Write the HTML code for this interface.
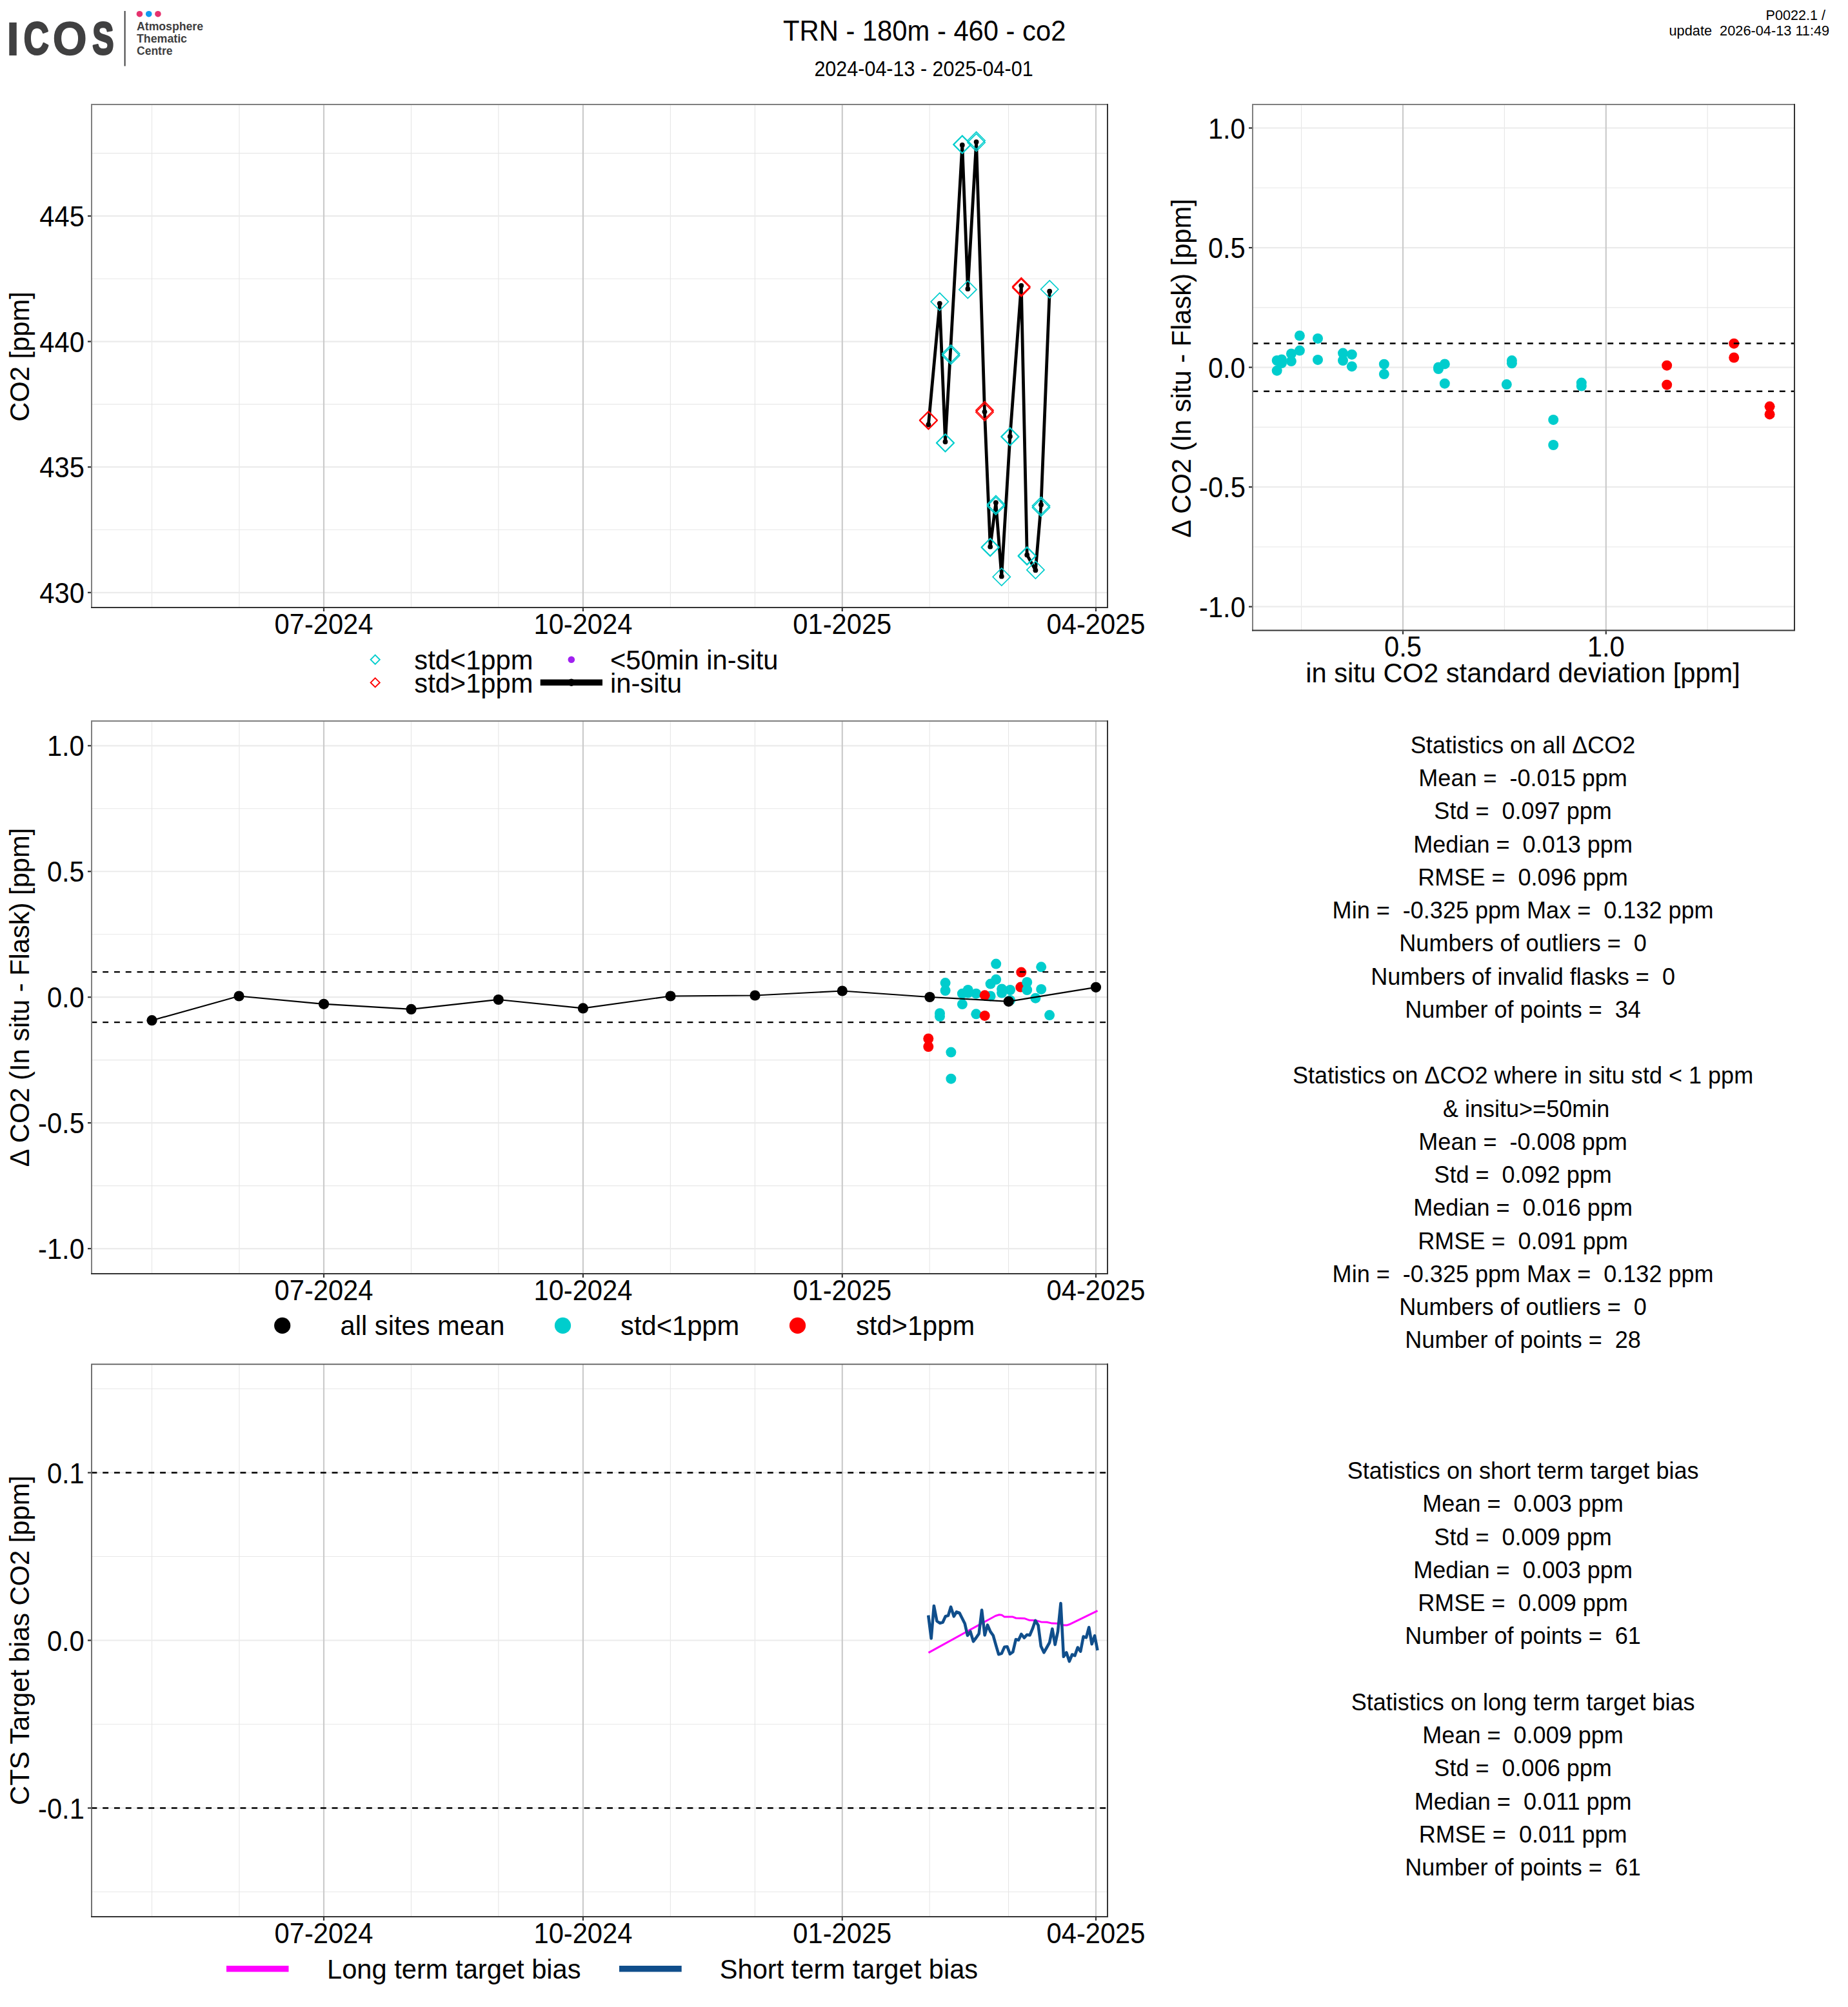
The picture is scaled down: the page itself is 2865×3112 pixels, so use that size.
<!DOCTYPE html>
<html lang="en">
<head>
<meta charset="utf-8">
<title>TRN - 180m - 460 - co2</title>
<style>
html,body{margin:0;padding:0;background:#fff;}
body{width:2865px;height:3112px;overflow:hidden;}
svg{display:block;font-family:"Liberation Sans", "DejaVu Sans", sans-serif;fill:#000;}
svg text{white-space:pre;}
</style>
</head>
<body>
<svg width="2865" height="3112" viewBox="0 0 2865 3112">
<rect width="2865" height="3112" fill="#fff"/>

<g id="logo">
<g font-size="74.9" font-weight="bold" fill="#404041" aria-label="ICOS"><title>ICOS</title><text transform="translate(9.07,85.56) scale(1.058,1.001)">I</text><text transform="translate(36.68,84.20) scale(0.721,0.946)" stroke="#404041" stroke-width="3.2" stroke-linejoin="round">C</text><text transform="translate(81.69,84.91) scale(0.908,0.973)" stroke="#404041" stroke-width="1.6" stroke-linejoin="round">O</text><text transform="translate(143.25,84.11) scale(0.665,0.942)" stroke="#404041" stroke-width="3.4" stroke-linejoin="round">S</text></g>
<line x1="193.6" x2="193.6" y1="17" y2="102.5" stroke="#404041" stroke-width="2"/>
<circle cx="216.4" cy="21.7" r="4.8" fill="#E5326E"/>
<circle cx="230.7" cy="21.7" r="4.8" fill="#0F9BF0"/>
<circle cx="244.9" cy="21.7" r="4.8" fill="#E5326E"/>
<g font-size="17.2" font-weight="bold" fill="#3e3e40">
<text transform="translate(212,47.2) scale(1,1.09)" textLength="103" lengthAdjust="spacingAndGlyphs">Atmosphere</text>
<text transform="translate(212,65.8) scale(1,1.09)" textLength="78" lengthAdjust="spacingAndGlyphs">Thematic</text>
<text transform="translate(212,84.5) scale(1,1.09)" textLength="55.5" lengthAdjust="spacingAndGlyphs">Centre</text>
</g>
</g>
<text transform="translate(1433.2,62.8) scale(1,1.05)" font-size="41.75" text-anchor="middle" xml:space="preserve">TRN - 180m - 460 - co2</text>
<text transform="translate(1432.0,118.0) scale(1,1.06)" font-size="30.52" text-anchor="middle" xml:space="preserve">2024-04-13 - 2025-04-01</text>
<text transform="translate(2836.0,30.9) scale(1,1.06)" font-size="21.6" text-anchor="end" xml:space="preserve">P0022.1 / </text>
<text transform="translate(2836.2,54.9) scale(1,1.05)" font-size="21.76" text-anchor="end" xml:space="preserve">update  2026-04-13 11:49</text>
<g>
<rect x="142" y="162" width="1575" height="780" fill="#fff"/>
<line x1="142" x2="1717" y1="237.62" y2="237.62" stroke="#e8e8e8" stroke-width="1.1"/>
<line x1="142" x2="1717" y1="432.24" y2="432.24" stroke="#e8e8e8" stroke-width="1.1"/>
<line x1="142" x2="1717" y1="626.87" y2="626.87" stroke="#e8e8e8" stroke-width="1.1"/>
<line x1="142" x2="1717" y1="821.49" y2="821.49" stroke="#e8e8e8" stroke-width="1.1"/>
<line x1="235.51" x2="235.51" y1="162" y2="942" stroke="#e6e6e6" stroke-width="1.1"/>
<line x1="370.94" x2="370.94" y1="162" y2="942" stroke="#e6e6e6" stroke-width="1.1"/>
<line x1="637.43" x2="637.43" y1="162" y2="942" stroke="#e6e6e6" stroke-width="1.1"/>
<line x1="772.85" x2="772.85" y1="162" y2="942" stroke="#e6e6e6" stroke-width="1.1"/>
<line x1="1039.34" x2="1039.34" y1="162" y2="942" stroke="#e6e6e6" stroke-width="1.1"/>
<line x1="1170.40" x2="1170.40" y1="162" y2="942" stroke="#e6e6e6" stroke-width="1.1"/>
<line x1="1441.25" x2="1441.25" y1="162" y2="942" stroke="#e6e6e6" stroke-width="1.1"/>
<line x1="1563.57" x2="1563.57" y1="162" y2="942" stroke="#e6e6e6" stroke-width="1.1"/>
<line x1="142" x2="1717" y1="334.93" y2="334.93" stroke="#ebebeb" stroke-width="2.2"/>
<line x1="142" x2="1717" y1="529.55" y2="529.55" stroke="#ebebeb" stroke-width="2.2"/>
<line x1="142" x2="1717" y1="724.18" y2="724.18" stroke="#ebebeb" stroke-width="2.2"/>
<line x1="142" x2="1717" y1="918.80" y2="918.80" stroke="#ebebeb" stroke-width="2.2"/>
<line x1="502.00" x2="502.00" y1="162" y2="942" stroke="#cbcbcb" stroke-width="2.2"/>
<line x1="903.90" x2="903.90" y1="162" y2="942" stroke="#cbcbcb" stroke-width="2.2"/>
<line x1="1305.80" x2="1305.80" y1="162" y2="942" stroke="#cbcbcb" stroke-width="2.2"/>
<line x1="1699.00" x2="1699.00" y1="162" y2="942" stroke="#cbcbcb" stroke-width="2.2"/>
<polyline fill="none" stroke="#000" stroke-width="4.8" stroke-linejoin="round" stroke-linecap="butt" points="1439.4,658.5 1456.8,470.6 1465.5,685.0 1491.8,224.9 1500.4,447.9 1513.6,220.1 1526.5,638.6 1535.2,847.7 1543.9,779.5 1552.8,893.7 1565.9,676.7 1583.3,442.8 1592.2,860.4 1605.4,884.2 1614.0,782.7 1627.2,451.7"/>
<circle cx="1439.4" cy="658.5" r="3.9" fill="#000"/>
<circle cx="1456.8" cy="470.6" r="3.9" fill="#000"/>
<circle cx="1465.5" cy="685.0" r="3.9" fill="#000"/>
<circle cx="1491.8" cy="224.9" r="3.9" fill="#000"/>
<circle cx="1500.4" cy="447.9" r="3.9" fill="#000"/>
<circle cx="1513.6" cy="220.1" r="3.9" fill="#000"/>
<circle cx="1526.5" cy="638.6" r="3.9" fill="#000"/>
<circle cx="1535.2" cy="847.7" r="3.9" fill="#000"/>
<circle cx="1543.9" cy="779.5" r="3.9" fill="#000"/>
<circle cx="1552.8" cy="893.7" r="3.9" fill="#000"/>
<circle cx="1565.9" cy="676.7" r="3.9" fill="#000"/>
<circle cx="1583.3" cy="442.8" r="3.9" fill="#000"/>
<circle cx="1592.2" cy="860.4" r="3.9" fill="#000"/>
<circle cx="1605.4" cy="884.2" r="3.9" fill="#000"/>
<circle cx="1614.0" cy="782.7" r="3.9" fill="#000"/>
<circle cx="1627.2" cy="451.7" r="3.9" fill="#000"/>
<path d="M1439.4,637.7 L1453.0,651.3 L1439.4,664.9 L1425.8,651.3 Z" fill="none" stroke="#FF0000" stroke-width="1.65"/>
<path d="M1439.4,638.6 L1453.0,652.2 L1439.4,665.8 L1425.8,652.2 Z" fill="none" stroke="#FF0000" stroke-width="1.65"/>
<path d="M1456.8,454.2 L1470.4,467.8 L1456.8,481.4 L1443.2,467.8 Z" fill="none" stroke="#00CDCD" stroke-width="1.65"/>
<path d="M1465.5,672.8 L1479.1,686.4 L1465.5,700.0 L1451.9,686.4 Z" fill="none" stroke="#00CDCD" stroke-width="1.65"/>
<path d="M1465.5,673.5 L1479.1,687.1 L1465.5,700.7 L1451.9,687.1 Z" fill="none" stroke="#00CDCD" stroke-width="1.65"/>
<path d="M1474.2,534.8 L1487.8,548.4 L1474.2,562.0 L1460.6,548.4 Z" fill="none" stroke="#00CDCD" stroke-width="1.65"/>
<path d="M1474.2,537.7 L1487.8,551.3 L1474.2,564.9 L1460.6,551.3 Z" fill="none" stroke="#00CDCD" stroke-width="1.65"/>
<path d="M1491.8,210.1 L1505.4,223.7 L1491.8,237.3 L1478.2,223.7 Z" fill="none" stroke="#00CDCD" stroke-width="1.65"/>
<path d="M1491.8,211.0 L1505.4,224.6 L1491.8,238.2 L1478.2,224.6 Z" fill="none" stroke="#00CDCD" stroke-width="1.65"/>
<path d="M1500.4,435.3 L1514.0,448.9 L1500.4,462.5 L1486.8,448.9 Z" fill="none" stroke="#00CDCD" stroke-width="1.65"/>
<path d="M1513.6,204.4 L1527.2,218.0 L1513.6,231.6 L1500.0,218.0 Z" fill="none" stroke="#00CDCD" stroke-width="1.65"/>
<path d="M1513.6,207.4 L1527.2,221.0 L1513.6,234.6 L1500.0,221.0 Z" fill="none" stroke="#00CDCD" stroke-width="1.65"/>
<path d="M1526.5,622.7 L1540.1,636.3 L1526.5,649.9 L1512.9,636.3 Z" fill="none" stroke="#FF0000" stroke-width="1.65"/>
<path d="M1526.5,625.5 L1540.1,639.1 L1526.5,652.7 L1512.9,639.1 Z" fill="none" stroke="#FF0000" stroke-width="1.65"/>
<path d="M1535.2,834.6 L1548.8,848.2 L1535.2,861.8 L1521.6,848.2 Z" fill="none" stroke="#00CDCD" stroke-width="1.65"/>
<path d="M1535.2,835.5 L1548.8,849.1 L1535.2,862.7 L1521.6,849.1 Z" fill="none" stroke="#00CDCD" stroke-width="1.65"/>
<path d="M1543.9,768.4 L1557.5,782.0 L1543.9,795.6 L1530.3,782.0 Z" fill="none" stroke="#00CDCD" stroke-width="1.65"/>
<path d="M1543.9,771.0 L1557.5,784.6 L1543.9,798.2 L1530.3,784.6 Z" fill="none" stroke="#00CDCD" stroke-width="1.65"/>
<path d="M1552.8,880.9 L1566.4,894.5 L1552.8,908.1 L1539.2,894.5 Z" fill="none" stroke="#00CDCD" stroke-width="1.65"/>
<path d="M1565.9,663.1 L1579.5,676.7 L1565.9,690.3 L1552.3,676.7 Z" fill="none" stroke="#00CDCD" stroke-width="1.65"/>
<path d="M1565.9,664.0 L1579.5,677.6 L1565.9,691.2 L1552.3,677.6 Z" fill="none" stroke="#00CDCD" stroke-width="1.65"/>
<path d="M1583.3,430.7 L1596.9,444.3 L1583.3,457.9 L1569.7,444.3 Z" fill="none" stroke="#FF0000" stroke-width="1.65"/>
<path d="M1583.3,432.6 L1596.9,446.2 L1583.3,459.8 L1569.7,446.2 Z" fill="none" stroke="#FF0000" stroke-width="1.65"/>
<path d="M1592.2,847.9 L1605.8,861.5 L1592.2,875.1 L1578.6,861.5 Z" fill="none" stroke="#00CDCD" stroke-width="1.65"/>
<path d="M1592.2,848.8 L1605.8,862.4 L1592.2,876.0 L1578.6,862.4 Z" fill="none" stroke="#00CDCD" stroke-width="1.65"/>
<path d="M1605.4,870.1 L1619.0,883.7 L1605.4,897.3 L1591.8,883.7 Z" fill="none" stroke="#00CDCD" stroke-width="1.65"/>
<path d="M1614.0,770.7 L1627.6,784.3 L1614.0,797.9 L1600.4,784.3 Z" fill="none" stroke="#00CDCD" stroke-width="1.65"/>
<path d="M1614.0,773.5 L1627.6,787.1 L1614.0,800.7 L1600.4,787.1 Z" fill="none" stroke="#00CDCD" stroke-width="1.65"/>
<path d="M1627.2,434.9 L1640.8,448.5 L1627.2,462.1 L1613.6,448.5 Z" fill="none" stroke="#00CDCD" stroke-width="1.65"/>
<path d="M142,943 V162 H1718" fill="none" stroke="#7f7f7f" stroke-width="2"/>
<path d="M141,942 H1717 V161" fill="none" stroke="#333" stroke-width="2"/>
</g>
<line x1="502.00" x2="502.00" y1="943" y2="948" stroke="#333" stroke-width="2.2"/>
<text transform="translate(502,982.5) scale(1,1.07)" font-size="41.67" text-anchor="middle" xml:space="preserve">07-2024</text>
<line x1="903.90" x2="903.90" y1="943" y2="948" stroke="#333" stroke-width="2.2"/>
<text transform="translate(903.9,982.5) scale(1,1.07)" font-size="41.67" text-anchor="middle" xml:space="preserve">10-2024</text>
<line x1="1305.80" x2="1305.80" y1="943" y2="948" stroke="#333" stroke-width="2.2"/>
<text transform="translate(1305.8,982.5) scale(1,1.07)" font-size="41.67" text-anchor="middle" xml:space="preserve">01-2025</text>
<line x1="1699.00" x2="1699.00" y1="943" y2="948" stroke="#333" stroke-width="2.2"/>
<text transform="translate(1699,982.5) scale(1,1.07)" font-size="41.67" text-anchor="middle" xml:space="preserve">04-2025</text>
<line x1="136" x2="141" y1="334.93" y2="334.93" stroke="#333" stroke-width="2.2"/>
<text transform="translate(130.8,351.03) scale(1,1.07)" font-size="41.67" text-anchor="end" xml:space="preserve">445</text>
<line x1="136" x2="141" y1="529.55" y2="529.55" stroke="#333" stroke-width="2.2"/>
<text transform="translate(130.8,545.65) scale(1,1.07)" font-size="41.67" text-anchor="end" xml:space="preserve">440</text>
<line x1="136" x2="141" y1="724.18" y2="724.18" stroke="#333" stroke-width="2.2"/>
<text transform="translate(130.8,740.28) scale(1,1.07)" font-size="41.67" text-anchor="end" xml:space="preserve">435</text>
<line x1="136" x2="141" y1="918.80" y2="918.80" stroke="#333" stroke-width="2.2"/>
<text transform="translate(130.8,934.9) scale(1,1.07)" font-size="41.67" text-anchor="end" xml:space="preserve">430</text>
<text transform="translate(45,553) rotate(-90) scale(1,1.04)" font-size="41.67" text-anchor="middle" xml:space="preserve">CO2 [ppm]</text>
<g id="legend1">
<path d="M581.7,1015.7 L588.8,1022.8 L581.7,1029.9 L574.6,1022.8 Z" fill="none" stroke="#00CDCD" stroke-width="1.9"/>
<path d="M581.7,1051.3 L588.8,1058.4 L581.7,1065.5 L574.6,1058.4 Z" fill="none" stroke="#FF0000" stroke-width="1.9"/>
<text transform="translate(642.3,1038.3) scale(1,1.02)" font-size="41.67" xml:space="preserve">std&lt;1ppm</text>
<text transform="translate(642.3,1073.5) scale(1,1.02)" font-size="41.67" xml:space="preserve">std&gt;1ppm</text>
<circle cx="885.8" cy="1022.8" r="5.3" fill="#A020F0"/>
<line x1="837.7" x2="934" y1="1058.2" y2="1058.2" stroke="#000" stroke-width="9.4"/>
<circle cx="885.8" cy="1058.2" r="5.7" fill="#000"/>
<text transform="translate(946,1038.3) scale(1,1.02)" font-size="41.67" xml:space="preserve">&lt;50min in-situ</text>
<text transform="translate(946,1073.5) scale(1,1.02)" font-size="41.67" xml:space="preserve">in-situ</text>
</g>
<g>
<rect x="1942" y="162" width="840" height="815.5" fill="#fff"/>
<line x1="1942" x2="2782" y1="291.27" y2="291.27" stroke="#e8e8e8" stroke-width="1.1"/>
<line x1="1942" x2="2782" y1="476.83" y2="476.83" stroke="#e8e8e8" stroke-width="1.1"/>
<line x1="1942" x2="2782" y1="662.38" y2="662.38" stroke="#e8e8e8" stroke-width="1.1"/>
<line x1="1942" x2="2782" y1="847.93" y2="847.93" stroke="#e8e8e8" stroke-width="1.1"/>
<line x1="2017.60" x2="2017.60" y1="162" y2="977.5" stroke="#e6e6e6" stroke-width="1.1"/>
<line x1="2332.40" x2="2332.40" y1="162" y2="977.5" stroke="#e6e6e6" stroke-width="1.1"/>
<line x1="2647.20" x2="2647.20" y1="162" y2="977.5" stroke="#e6e6e6" stroke-width="1.1"/>
<line x1="1942" x2="2782" y1="198.50" y2="198.50" stroke="#ebebeb" stroke-width="2.2"/>
<line x1="1942" x2="2782" y1="384.05" y2="384.05" stroke="#ebebeb" stroke-width="2.2"/>
<line x1="1942" x2="2782" y1="569.60" y2="569.60" stroke="#ebebeb" stroke-width="2.2"/>
<line x1="1942" x2="2782" y1="755.15" y2="755.15" stroke="#ebebeb" stroke-width="2.2"/>
<line x1="1942" x2="2782" y1="940.70" y2="940.70" stroke="#ebebeb" stroke-width="2.2"/>
<line x1="2175.00" x2="2175.00" y1="162" y2="977.5" stroke="#cbcbcb" stroke-width="2.2"/>
<line x1="2489.80" x2="2489.80" y1="162" y2="977.5" stroke="#cbcbcb" stroke-width="2.2"/>
<circle cx="2014.9" cy="520.5" r="8" fill="#00CDCD"/>
<circle cx="2043.0" cy="524.9" r="8" fill="#00CDCD"/>
<circle cx="2014.9" cy="543.6" r="8" fill="#00CDCD"/>
<circle cx="2001.9" cy="548.4" r="8" fill="#00CDCD"/>
<circle cx="2001.9" cy="560.1" r="8" fill="#00CDCD"/>
<circle cx="1987.0" cy="557.4" r="8" fill="#00CDCD"/>
<circle cx="1987.0" cy="563.1" r="8" fill="#00CDCD"/>
<circle cx="1979.7" cy="559.0" r="8" fill="#00CDCD"/>
<circle cx="1979.7" cy="574.7" r="8" fill="#00CDCD"/>
<circle cx="2043.0" cy="557.9" r="8" fill="#00CDCD"/>
<circle cx="2082.0" cy="547.6" r="8" fill="#00CDCD"/>
<circle cx="2082.0" cy="559.0" r="8" fill="#00CDCD"/>
<circle cx="2095.8" cy="549.7" r="8" fill="#00CDCD"/>
<circle cx="2095.8" cy="568.2" r="8" fill="#00CDCD"/>
<circle cx="2145.8" cy="564.7" r="8" fill="#00CDCD"/>
<circle cx="2145.8" cy="580.1" r="8" fill="#00CDCD"/>
<circle cx="2230.0" cy="569.5" r="8" fill="#00CDCD"/>
<circle cx="2230.0" cy="572.0" r="8" fill="#00CDCD"/>
<circle cx="2239.8" cy="564.4" r="8" fill="#00CDCD"/>
<circle cx="2239.8" cy="594.7" r="8" fill="#00CDCD"/>
<circle cx="2343.9" cy="559.1" r="8" fill="#00CDCD"/>
<circle cx="2343.9" cy="563.3" r="8" fill="#00CDCD"/>
<circle cx="2335.8" cy="596.1" r="8" fill="#00CDCD"/>
<circle cx="2408.2" cy="650.9" r="8" fill="#00CDCD"/>
<circle cx="2408.2" cy="690.0" r="8" fill="#00CDCD"/>
<circle cx="2451.8" cy="593.6" r="8" fill="#00CDCD"/>
<circle cx="2451.8" cy="598.5" r="8" fill="#00CDCD"/>
<circle cx="2584.2" cy="566.7" r="8" fill="#FF0000"/>
<circle cx="2584.2" cy="596.7" r="8" fill="#FF0000"/>
<circle cx="2688.2" cy="532.7" r="8" fill="#FF0000"/>
<circle cx="2688.2" cy="554.5" r="8" fill="#FF0000"/>
<circle cx="2743.6" cy="630.3" r="8" fill="#FF0000"/>
<circle cx="2743.6" cy="642.4" r="8" fill="#FF0000"/>
<line x1="1941.45" x2="2782" y1="532.49" y2="532.49" stroke="#000" stroke-width="2.35" stroke-dasharray="8.885 8.885"/>
<line x1="1941.45" x2="2782" y1="606.71" y2="606.71" stroke="#000" stroke-width="2.35" stroke-dasharray="8.885 8.885"/>
<path d="M1942,978.5 V162 H2783" fill="none" stroke="#7f7f7f" stroke-width="2"/>
<path d="M1941,977.5 H2782 V161" fill="none" stroke="#333" stroke-width="2"/>
</g>
<line x1="2175.00" x2="2175.00" y1="978.5" y2="983.5" stroke="#333" stroke-width="2.2"/>
<text transform="translate(2175.0,1017.5) scale(1,1.07)" font-size="41.67" text-anchor="middle" xml:space="preserve">0.5</text>
<line x1="2489.80" x2="2489.80" y1="978.5" y2="983.5" stroke="#333" stroke-width="2.2"/>
<text transform="translate(2489.8,1017.5) scale(1,1.07)" font-size="41.67" text-anchor="middle" xml:space="preserve">1.0</text>
<line x1="1936" x2="1941" y1="198.50" y2="198.50" stroke="#333" stroke-width="2.2"/>
<text transform="translate(1930.8,214.6) scale(1,1.07)" font-size="41.67" text-anchor="end" xml:space="preserve">1.0</text>
<line x1="1936" x2="1941" y1="384.05" y2="384.05" stroke="#333" stroke-width="2.2"/>
<text transform="translate(1930.8,400.15) scale(1,1.07)" font-size="41.67" text-anchor="end" xml:space="preserve">0.5</text>
<line x1="1936" x2="1941" y1="569.60" y2="569.60" stroke="#333" stroke-width="2.2"/>
<text transform="translate(1930.8,585.7) scale(1,1.07)" font-size="41.67" text-anchor="end" xml:space="preserve">0.0</text>
<line x1="1936" x2="1941" y1="755.15" y2="755.15" stroke="#333" stroke-width="2.2"/>
<text transform="translate(1930.8,771.25) scale(1,1.07)" font-size="41.67" text-anchor="end" xml:space="preserve">-0.5</text>
<line x1="1936" x2="1941" y1="940.70" y2="940.70" stroke="#333" stroke-width="2.2"/>
<text transform="translate(1930.8,956.8) scale(1,1.07)" font-size="41.67" text-anchor="end" xml:space="preserve">-1.0</text>
<text transform="translate(1846,571) rotate(-90) scale(1,1.04)" font-size="41.67" text-anchor="middle" xml:space="preserve">Δ CO2 (In situ - Flask) [ppm]</text>
<text transform="translate(2361,1057.5) scale(1,1.03)" font-size="41.67" text-anchor="middle" xml:space="preserve">in situ CO2 standard deviation [ppm]</text>
<g>
<rect x="142" y="1118" width="1575" height="857" fill="#fff"/>
<line x1="142" x2="1717" y1="1253.77" y2="1253.77" stroke="#e8e8e8" stroke-width="1.1"/>
<line x1="142" x2="1717" y1="1448.71" y2="1448.71" stroke="#e8e8e8" stroke-width="1.1"/>
<line x1="142" x2="1717" y1="1643.65" y2="1643.65" stroke="#e8e8e8" stroke-width="1.1"/>
<line x1="142" x2="1717" y1="1838.59" y2="1838.59" stroke="#e8e8e8" stroke-width="1.1"/>
<line x1="235.51" x2="235.51" y1="1118" y2="1975" stroke="#e6e6e6" stroke-width="1.1"/>
<line x1="370.94" x2="370.94" y1="1118" y2="1975" stroke="#e6e6e6" stroke-width="1.1"/>
<line x1="637.43" x2="637.43" y1="1118" y2="1975" stroke="#e6e6e6" stroke-width="1.1"/>
<line x1="772.85" x2="772.85" y1="1118" y2="1975" stroke="#e6e6e6" stroke-width="1.1"/>
<line x1="1039.34" x2="1039.34" y1="1118" y2="1975" stroke="#e6e6e6" stroke-width="1.1"/>
<line x1="1170.40" x2="1170.40" y1="1118" y2="1975" stroke="#e6e6e6" stroke-width="1.1"/>
<line x1="1441.25" x2="1441.25" y1="1118" y2="1975" stroke="#e6e6e6" stroke-width="1.1"/>
<line x1="1563.57" x2="1563.57" y1="1118" y2="1975" stroke="#e6e6e6" stroke-width="1.1"/>
<line x1="142" x2="1717" y1="1156.30" y2="1156.30" stroke="#ebebeb" stroke-width="2.2"/>
<line x1="142" x2="1717" y1="1351.24" y2="1351.24" stroke="#ebebeb" stroke-width="2.2"/>
<line x1="142" x2="1717" y1="1546.18" y2="1546.18" stroke="#ebebeb" stroke-width="2.2"/>
<line x1="142" x2="1717" y1="1741.12" y2="1741.12" stroke="#ebebeb" stroke-width="2.2"/>
<line x1="142" x2="1717" y1="1936.06" y2="1936.06" stroke="#ebebeb" stroke-width="2.2"/>
<line x1="502.00" x2="502.00" y1="1118" y2="1975" stroke="#cbcbcb" stroke-width="2.2"/>
<line x1="903.90" x2="903.90" y1="1118" y2="1975" stroke="#cbcbcb" stroke-width="2.2"/>
<line x1="1305.80" x2="1305.80" y1="1118" y2="1975" stroke="#cbcbcb" stroke-width="2.2"/>
<line x1="1699.00" x2="1699.00" y1="1118" y2="1975" stroke="#cbcbcb" stroke-width="2.2"/>
<circle cx="1544.2" cy="1494.6" r="8" fill="#00CDCD"/>
<circle cx="1614.2" cy="1499.3" r="8" fill="#00CDCD"/>
<circle cx="1465.6" cy="1524.1" r="8" fill="#00CDCD"/>
<circle cx="1465.6" cy="1536.0" r="8" fill="#00CDCD"/>
<circle cx="1544.2" cy="1518.8" r="8" fill="#00CDCD"/>
<circle cx="1535.6" cy="1525.6" r="8" fill="#00CDCD"/>
<circle cx="1500.7" cy="1535.0" r="8" fill="#00CDCD"/>
<circle cx="1500.7" cy="1539.5" r="8" fill="#00CDCD"/>
<circle cx="1491.9" cy="1540.7" r="8" fill="#00CDCD"/>
<circle cx="1513.3" cy="1540.7" r="8" fill="#00CDCD"/>
<circle cx="1553.1" cy="1533.4" r="8" fill="#00CDCD"/>
<circle cx="1553.1" cy="1539.5" r="8" fill="#00CDCD"/>
<circle cx="1566.1" cy="1535.0" r="8" fill="#00CDCD"/>
<circle cx="1535.6" cy="1544.4" r="8" fill="#00CDCD"/>
<circle cx="1566.1" cy="1550.9" r="8" fill="#00CDCD"/>
<circle cx="1605.4" cy="1547.7" r="8" fill="#00CDCD"/>
<circle cx="1491.9" cy="1557.1" r="8" fill="#00CDCD"/>
<circle cx="1457.0" cy="1571.2" r="8" fill="#00CDCD"/>
<circle cx="1457.0" cy="1576.1" r="8" fill="#00CDCD"/>
<circle cx="1513.3" cy="1572.3" r="8" fill="#00CDCD"/>
<circle cx="1627.1" cy="1574.1" r="8" fill="#00CDCD"/>
<circle cx="1474.4" cy="1631.6" r="8" fill="#00CDCD"/>
<circle cx="1474.4" cy="1672.7" r="8" fill="#00CDCD"/>
<circle cx="1439.3" cy="1610.5" r="8" fill="#FF0000"/>
<circle cx="1439.3" cy="1623.0" r="8" fill="#FF0000"/>
<circle cx="1526.7" cy="1543.3" r="8" fill="#FF0000"/>
<circle cx="1526.7" cy="1574.9" r="8" fill="#FF0000"/>
<circle cx="1583.3" cy="1507.6" r="8" fill="#FF0000"/>
<circle cx="1582.3" cy="1530.6" r="8" fill="#FF0000"/>
<circle cx="1592.2" cy="1523.0" r="8" fill="#00CDCD"/>
<circle cx="1592.2" cy="1535.0" r="8" fill="#00CDCD"/>
<circle cx="1614.2" cy="1533.9" r="8" fill="#00CDCD"/>
<line x1="141.45" x2="1717" y1="1507.19" y2="1507.19" stroke="#000" stroke-width="2.35" stroke-dasharray="8.885 8.885"/>
<line x1="141.45" x2="1717" y1="1585.17" y2="1585.17" stroke="#000" stroke-width="2.35" stroke-dasharray="8.885 8.885"/>
<polyline fill="none" stroke="#000" stroke-width="2.2" points="235.5,1582.2 370.5,1544.5 502,1556.8 637.5,1564.9 772.7,1550.0 903.9,1563.4 1039.5,1544.5 1170.5,1543.5 1305.8,1536.5 1441.4,1546.0 1563.7,1552.8 1699,1530.8"/>
<circle cx="235.5" cy="1582.2" r="8.1" fill="#000"/>
<circle cx="370.5" cy="1544.5" r="8.1" fill="#000"/>
<circle cx="502" cy="1556.8" r="8.1" fill="#000"/>
<circle cx="637.5" cy="1564.9" r="8.1" fill="#000"/>
<circle cx="772.7" cy="1550.0" r="8.1" fill="#000"/>
<circle cx="903.9" cy="1563.4" r="8.1" fill="#000"/>
<circle cx="1039.5" cy="1544.5" r="8.1" fill="#000"/>
<circle cx="1170.5" cy="1543.5" r="8.1" fill="#000"/>
<circle cx="1305.8" cy="1536.5" r="8.1" fill="#000"/>
<circle cx="1441.4" cy="1546.0" r="8.1" fill="#000"/>
<circle cx="1563.7" cy="1552.8" r="8.1" fill="#000"/>
<circle cx="1699" cy="1530.8" r="8.1" fill="#000"/>
<path d="M142,1976 V1118 H1718" fill="none" stroke="#7f7f7f" stroke-width="2"/>
<path d="M141,1975 H1717 V1117" fill="none" stroke="#333" stroke-width="2"/>
</g>
<line x1="502.00" x2="502.00" y1="1976" y2="1981" stroke="#333" stroke-width="2.2"/>
<text transform="translate(502,2015.5) scale(1,1.07)" font-size="41.67" text-anchor="middle" xml:space="preserve">07-2024</text>
<line x1="903.90" x2="903.90" y1="1976" y2="1981" stroke="#333" stroke-width="2.2"/>
<text transform="translate(903.9,2015.5) scale(1,1.07)" font-size="41.67" text-anchor="middle" xml:space="preserve">10-2024</text>
<line x1="1305.80" x2="1305.80" y1="1976" y2="1981" stroke="#333" stroke-width="2.2"/>
<text transform="translate(1305.8,2015.5) scale(1,1.07)" font-size="41.67" text-anchor="middle" xml:space="preserve">01-2025</text>
<line x1="1699.00" x2="1699.00" y1="1976" y2="1981" stroke="#333" stroke-width="2.2"/>
<text transform="translate(1699,2015.5) scale(1,1.07)" font-size="41.67" text-anchor="middle" xml:space="preserve">04-2025</text>
<line x1="136" x2="141" y1="1156.30" y2="1156.30" stroke="#333" stroke-width="2.2"/>
<text transform="translate(130.8,1172.4) scale(1,1.07)" font-size="41.67" text-anchor="end" xml:space="preserve">1.0</text>
<line x1="136" x2="141" y1="1351.24" y2="1351.24" stroke="#333" stroke-width="2.2"/>
<text transform="translate(130.8,1367.34) scale(1,1.07)" font-size="41.67" text-anchor="end" xml:space="preserve">0.5</text>
<line x1="136" x2="141" y1="1546.18" y2="1546.18" stroke="#333" stroke-width="2.2"/>
<text transform="translate(130.8,1562.28) scale(1,1.07)" font-size="41.67" text-anchor="end" xml:space="preserve">0.0</text>
<line x1="136" x2="141" y1="1741.12" y2="1741.12" stroke="#333" stroke-width="2.2"/>
<text transform="translate(130.8,1757.22) scale(1,1.07)" font-size="41.67" text-anchor="end" xml:space="preserve">-0.5</text>
<line x1="136" x2="141" y1="1936.06" y2="1936.06" stroke="#333" stroke-width="2.2"/>
<text transform="translate(130.8,1952.16) scale(1,1.07)" font-size="41.67" text-anchor="end" xml:space="preserve">-1.0</text>
<text transform="translate(45,1546.5) rotate(-90) scale(1,1.04)" font-size="41.67" text-anchor="middle" xml:space="preserve">Δ CO2 (In situ - Flask) [ppm]</text>
<g id="legend2">
<circle cx="437.7" cy="2055.4" r="12.6" fill="#000"/>
<text transform="translate(527.6,2070.3) scale(1,1.02)" font-size="41.67" xml:space="preserve">all sites mean</text>
<circle cx="872.5" cy="2055.4" r="12.6" fill="#00CDCD"/>
<text transform="translate(962.1,2070.3) scale(1,1.02)" font-size="41.67" xml:space="preserve">std&lt;1ppm</text>
<circle cx="1236.5" cy="2055.4" r="12.6" fill="#FF0000"/>
<text transform="translate(1327,2070.3) scale(1,1.02)" font-size="41.67" xml:space="preserve">std&gt;1ppm</text>
</g>
<g>
<rect x="142" y="2115.3" width="1575" height="856.6999999999998" fill="#fff"/>
<line x1="142" x2="1717" y1="2153.50" y2="2153.50" stroke="#e8e8e8" stroke-width="1.1"/>
<line x1="142" x2="1717" y1="2413.50" y2="2413.50" stroke="#e8e8e8" stroke-width="1.1"/>
<line x1="142" x2="1717" y1="2673.50" y2="2673.50" stroke="#e8e8e8" stroke-width="1.1"/>
<line x1="142" x2="1717" y1="2933.50" y2="2933.50" stroke="#e8e8e8" stroke-width="1.1"/>
<line x1="235.51" x2="235.51" y1="2115.3" y2="2972" stroke="#e6e6e6" stroke-width="1.1"/>
<line x1="370.94" x2="370.94" y1="2115.3" y2="2972" stroke="#e6e6e6" stroke-width="1.1"/>
<line x1="637.43" x2="637.43" y1="2115.3" y2="2972" stroke="#e6e6e6" stroke-width="1.1"/>
<line x1="772.85" x2="772.85" y1="2115.3" y2="2972" stroke="#e6e6e6" stroke-width="1.1"/>
<line x1="1039.34" x2="1039.34" y1="2115.3" y2="2972" stroke="#e6e6e6" stroke-width="1.1"/>
<line x1="1170.40" x2="1170.40" y1="2115.3" y2="2972" stroke="#e6e6e6" stroke-width="1.1"/>
<line x1="1441.25" x2="1441.25" y1="2115.3" y2="2972" stroke="#e6e6e6" stroke-width="1.1"/>
<line x1="1563.57" x2="1563.57" y1="2115.3" y2="2972" stroke="#e6e6e6" stroke-width="1.1"/>
<line x1="142" x2="1717" y1="2283.50" y2="2283.50" stroke="#ebebeb" stroke-width="2.2"/>
<line x1="142" x2="1717" y1="2543.50" y2="2543.50" stroke="#ebebeb" stroke-width="2.2"/>
<line x1="142" x2="1717" y1="2803.50" y2="2803.50" stroke="#ebebeb" stroke-width="2.2"/>
<line x1="502.00" x2="502.00" y1="2115.3" y2="2972" stroke="#cbcbcb" stroke-width="2.2"/>
<line x1="903.90" x2="903.90" y1="2115.3" y2="2972" stroke="#cbcbcb" stroke-width="2.2"/>
<line x1="1305.80" x2="1305.80" y1="2115.3" y2="2972" stroke="#cbcbcb" stroke-width="2.2"/>
<line x1="1699.00" x2="1699.00" y1="2115.3" y2="2972" stroke="#cbcbcb" stroke-width="2.2"/>
<line x1="141.45" x2="1717" y1="2283.50" y2="2283.50" stroke="#000" stroke-width="2.35" stroke-dasharray="8.885 8.885"/>
<line x1="141.45" x2="1717" y1="2803.50" y2="2803.50" stroke="#000" stroke-width="2.35" stroke-dasharray="8.885 8.885"/>
<polyline fill="none" stroke="#FF00FF" stroke-width="3.0" stroke-linejoin="round" points="1439.5,2562.6 1543.4,2505.5 1549.1,2503.8 1553.1,2504.2 1557.2,2507.1 1570.2,2507.1 1575.0,2509.0 1588.0,2509.4 1596.1,2512.3 1605.1,2512.4 1614.0,2514.9 1622.9,2515.2 1631.0,2517.1 1644.0,2517.6 1648.9,2520.1 1653.8,2520.1 1657.8,2518.8 1701.5,2497.7"/>
<polyline fill="none" stroke="#104E8B" stroke-width="4.6" stroke-linejoin="round" points="1439.2,2504.6 1443.7,2540.4 1447.9,2490.0 1452.5,2513.6 1457.3,2516.8 1461.6,2515.5 1465.8,2506.3 1470.0,2505.1 1474.1,2491.7 1478.8,2506.3 1483.0,2499.3 1487.4,2500.9 1491.4,2508.7 1495.8,2517.6 1500.0,2536.0 1504.4,2529.8 1509.0,2545.2 1513.3,2539.5 1517.7,2533.1 1522.1,2496.5 1526.7,2535.5 1531.0,2519.7 1535.4,2529.8 1539.8,2536.0 1544.2,2551.7 1548.2,2565.2 1552.8,2563.9 1557.2,2553.8 1561.6,2553.3 1565.8,2564.7 1570.3,2561.5 1574.9,2542.0 1579.1,2543.1 1583.3,2533.9 1587.9,2539.5 1592.1,2534.7 1596.5,2535.5 1600.7,2525.7 1605.1,2512.8 1609.6,2520.1 1613.8,2552.5 1618.4,2562.3 1622.6,2555.0 1627.1,2546.9 1631.4,2525.7 1635.7,2550.1 1640.0,2529.8 1644.5,2486.0 1648.9,2568.8 1653.3,2562.3 1657.8,2576.1 1662.2,2565.5 1666.4,2567.1 1670.8,2554.5 1675.2,2560.6 1679.6,2537.6 1684.0,2539.1 1688.2,2523.3 1692.7,2549.3 1697.1,2536.3 1701.5,2559.0"/>
<path d="M142,2973 V2115.3 H1718" fill="none" stroke="#5a5a5a" stroke-width="1.7"/>
<path d="M141,2972 H1717 V2114.3" fill="none" stroke="#333" stroke-width="2"/>
</g>
<line x1="502.00" x2="502.00" y1="2973" y2="2978" stroke="#333" stroke-width="2.2"/>
<text transform="translate(502,3012.5) scale(1,1.07)" font-size="41.67" text-anchor="middle" xml:space="preserve">07-2024</text>
<line x1="903.90" x2="903.90" y1="2973" y2="2978" stroke="#333" stroke-width="2.2"/>
<text transform="translate(903.9,3012.5) scale(1,1.07)" font-size="41.67" text-anchor="middle" xml:space="preserve">10-2024</text>
<line x1="1305.80" x2="1305.80" y1="2973" y2="2978" stroke="#333" stroke-width="2.2"/>
<text transform="translate(1305.8,3012.5) scale(1,1.07)" font-size="41.67" text-anchor="middle" xml:space="preserve">01-2025</text>
<line x1="1699.00" x2="1699.00" y1="2973" y2="2978" stroke="#333" stroke-width="2.2"/>
<text transform="translate(1699,3012.5) scale(1,1.07)" font-size="41.67" text-anchor="middle" xml:space="preserve">04-2025</text>
<line x1="136" x2="141" y1="2283.50" y2="2283.50" stroke="#333" stroke-width="2.2"/>
<text transform="translate(130.8,2299.6) scale(1,1.07)" font-size="41.67" text-anchor="end" xml:space="preserve">0.1</text>
<line x1="136" x2="141" y1="2543.50" y2="2543.50" stroke="#333" stroke-width="2.2"/>
<text transform="translate(130.8,2559.6) scale(1,1.07)" font-size="41.67" text-anchor="end" xml:space="preserve">0.0</text>
<line x1="136" x2="141" y1="2803.50" y2="2803.50" stroke="#333" stroke-width="2.2"/>
<text transform="translate(130.8,2819.6) scale(1,1.07)" font-size="41.67" text-anchor="end" xml:space="preserve">-0.1</text>
<text transform="translate(45,2543.5) rotate(-90) scale(1,1.04)" font-size="41.67" text-anchor="middle" xml:space="preserve">CTS Target bias CO2 [ppm]</text>
<g id="legend3">
<line x1="351" x2="447.5" y1="3052.7" y2="3052.7" stroke="#FF00FF" stroke-width="9.4"/>
<text transform="translate(507,3067.7) scale(1,1.03)" font-size="41.67" xml:space="preserve">Long term target bias</text>
<line x1="960" x2="1056.7" y1="3052.7" y2="3052.7" stroke="#104E8B" stroke-width="9.4"/>
<text transform="translate(1115.7,3067.7) scale(1,1.03)" font-size="41.67" xml:space="preserve">Short term target bias</text>
</g>
<g id="stats1">
<text transform="translate(2361.1,1167.7) scale(1,1.045)" font-size="36.05" text-anchor="middle" xml:space="preserve">Statistics on all ΔCO2</text>
<text transform="translate(2361.1,1219.0) scale(1,1.045)" font-size="36.05" text-anchor="middle" xml:space="preserve">Mean =  -0.015 ppm</text>
<text transform="translate(2361.1,1270.2) scale(1,1.045)" font-size="36.05" text-anchor="middle" xml:space="preserve">Std =  0.097 ppm</text>
<text transform="translate(2361.1,1321.5) scale(1,1.045)" font-size="36.05" text-anchor="middle" xml:space="preserve">Median =  0.013 ppm</text>
<text transform="translate(2361.1,1372.7) scale(1,1.045)" font-size="36.05" text-anchor="middle" xml:space="preserve">RMSE =  0.096 ppm</text>
<text transform="translate(2361.1,1424.0) scale(1,1.045)" font-size="36.05" text-anchor="middle" xml:space="preserve">Min =  -0.325 ppm Max =  0.132 ppm</text>
<text transform="translate(2361.1,1475.2) scale(1,1.045)" font-size="36.05" text-anchor="middle" xml:space="preserve">Numbers of outliers =  0</text>
<text transform="translate(2361.1,1526.5) scale(1,1.045)" font-size="36.05" text-anchor="middle" xml:space="preserve">Numbers of invalid flasks =  0</text>
<text transform="translate(2361.1,1577.7) scale(1,1.045)" font-size="36.05" text-anchor="middle" xml:space="preserve">Number of points =  34</text>
<text transform="translate(2361.1,1680.2) scale(1,1.045)" font-size="36.05" text-anchor="middle" xml:space="preserve">Statistics on ΔCO2 where in situ std &lt; 1 ppm</text>
<text transform="translate(2361.1,1731.5) scale(1,1.045)" font-size="36.05" text-anchor="middle" xml:space="preserve"> &amp; insitu&gt;=50min</text>
<text transform="translate(2361.1,1782.7) scale(1,1.045)" font-size="36.05" text-anchor="middle" xml:space="preserve">Mean =  -0.008 ppm</text>
<text transform="translate(2361.1,1834.0) scale(1,1.045)" font-size="36.05" text-anchor="middle" xml:space="preserve">Std =  0.092 ppm</text>
<text transform="translate(2361.1,1885.2) scale(1,1.045)" font-size="36.05" text-anchor="middle" xml:space="preserve">Median =  0.016 ppm</text>
<text transform="translate(2361.1,1936.5) scale(1,1.045)" font-size="36.05" text-anchor="middle" xml:space="preserve">RMSE =  0.091 ppm</text>
<text transform="translate(2361.1,1987.7) scale(1,1.045)" font-size="36.05" text-anchor="middle" xml:space="preserve">Min =  -0.325 ppm Max =  0.132 ppm</text>
<text transform="translate(2361.1,2039.0) scale(1,1.045)" font-size="36.05" text-anchor="middle" xml:space="preserve">Numbers of outliers =  0</text>
<text transform="translate(2361.1,2090.2) scale(1,1.045)" font-size="36.05" text-anchor="middle" xml:space="preserve">Number of points =  28</text>
</g>
<g id="stats2">
<text transform="translate(2361.1,2293.0) scale(1,1.045)" font-size="36.05" text-anchor="middle" xml:space="preserve">Statistics on short term target bias</text>
<text transform="translate(2361.1,2344.2) scale(1,1.045)" font-size="36.05" text-anchor="middle" xml:space="preserve">Mean =  0.003 ppm</text>
<text transform="translate(2361.1,2395.5) scale(1,1.045)" font-size="36.05" text-anchor="middle" xml:space="preserve">Std =  0.009 ppm</text>
<text transform="translate(2361.1,2446.8) scale(1,1.045)" font-size="36.05" text-anchor="middle" xml:space="preserve">Median =  0.003 ppm</text>
<text transform="translate(2361.1,2498.0) scale(1,1.045)" font-size="36.05" text-anchor="middle" xml:space="preserve">RMSE =  0.009 ppm</text>
<text transform="translate(2361.1,2549.2) scale(1,1.045)" font-size="36.05" text-anchor="middle" xml:space="preserve">Number of points =  61</text>
<text transform="translate(2361.1,2651.8) scale(1,1.045)" font-size="36.05" text-anchor="middle" xml:space="preserve">Statistics on long term target bias</text>
<text transform="translate(2361.1,2703.0) scale(1,1.045)" font-size="36.05" text-anchor="middle" xml:space="preserve">Mean =  0.009 ppm</text>
<text transform="translate(2361.1,2754.2) scale(1,1.045)" font-size="36.05" text-anchor="middle" xml:space="preserve">Std =  0.006 ppm</text>
<text transform="translate(2361.1,2805.5) scale(1,1.045)" font-size="36.05" text-anchor="middle" xml:space="preserve">Median =  0.011 ppm</text>
<text transform="translate(2361.1,2856.8) scale(1,1.045)" font-size="36.05" text-anchor="middle" xml:space="preserve">RMSE =  0.011 ppm</text>
<text transform="translate(2361.1,2908.0) scale(1,1.045)" font-size="36.05" text-anchor="middle" xml:space="preserve">Number of points =  61</text>
</g>
</svg>
</body>
</html>
